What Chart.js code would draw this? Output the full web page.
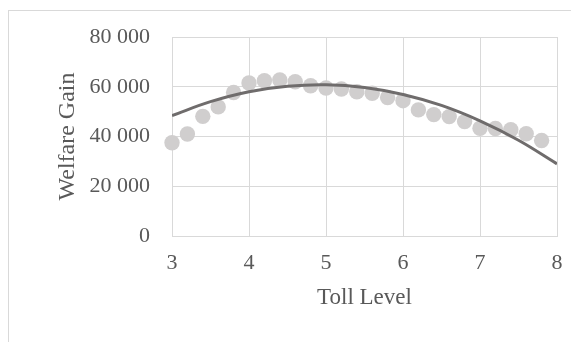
<!DOCTYPE html>
<html>
<head>
<meta charset="utf-8">
<script src="https://cdn.jsdelivr.net/npm/chart.js@4"></script>
<style>
  html, body { margin: 0; padding: 0; background: #ffffff; overflow: hidden; }
  #wrap { position: relative; width: 571px; height: 342px; }
  #frame { position: absolute; left: 8px; top: 10px; width: 620px; height: 400px; border: 1px solid #d9d9d9; box-sizing: border-box; }
  canvas { position: absolute; left: 0; top: 0; }
</style>
</head>
<body>
<div id="wrap">
  <div id="frame"></div>
  <canvas id="c" width="571" height="342"></canvas>
</div>
<script>
// Observed data (Toll Level vs Welfare Gain)
const tollLevels = [3.0, 3.2, 3.4, 3.6, 3.8, 4.0, 4.2, 4.4, 4.6, 4.8, 5.0, 5.2, 5.4, 5.6, 5.8, 6.0, 6.2, 6.4, 6.6, 6.8, 7.0, 7.2, 7.4, 7.6, 7.8];
const welfareGain = [37500, 41000, 48100, 51900, 57700, 61500, 62400, 62700, 62000, 60400, 59500, 59100, 58000, 57400, 55700, 54400, 50700, 48800, 48000, 46000, 43300, 43200, 42700, 41100, 38400];

// Trendline
const trendX = [3.0, 3.5, 4.0, 4.5, 5.0, 5.5, 6.0, 6.5, 7.0, 7.5, 8.0];
const trendY = [48400, 54000, 58000, 60200, 60800, 59700, 56900, 52500, 46300, 38500, 29000];

// Axis ticks
const xTicks = [3, 4, 5, 6, 7, 8];
const yTicks = [0, 20000, 40000, 60000, 80000];
const yTickLabels = ['0', '20 000', '40 000', '60 000', '80 000'];

const textColor = '#595959';
const gridColor = '#d9d9d9';
const fontFamily = "'Liberation Serif', 'Times New Roman', serif";

const pointData = tollLevels.map((x, i) => ({ x: x, y: welfareGain[i] }));
const trendData = trendX.map((x, i) => ({ x: x, y: trendY[i] }));

new Chart(document.getElementById('c'), {
  type: 'scatter',
  data: {
    datasets: [
      {
        label: 'Trend',
        data: trendData,
        showLine: true,
        borderColor: '#6f6c6c',
        borderWidth: 3,
        pointRadius: 0,
        tension: 0.4,
        fill: false,
        order: 0
      },
      {
        label: 'Welfare Gain',
        data: pointData,
        backgroundColor: '#d0cece',
        borderWidth: 0,
        pointRadius: 7.7,
        pointHoverRadius: 7.7,
        clip: false,
        order: 1
      }
    ]
  },
  options: {
    responsive: false,
    animation: false,
    events: [],
    layout: { padding: { left: 0, right: 14, top: 37, bottom: 0 } },
    plugins: { legend: { display: false }, tooltip: { enabled: false } },
    scales: {
      x: {
        type: 'linear',
        min: 3, max: 8,
        afterBuildTicks: (s) => { s.ticks = xTicks.map(v => ({ value: v })); },
        afterFit: (s) => { s.height = 106; s.paddingLeft = 0; s.paddingRight = 0; },
        grid: { color: gridColor, lineWidth: 1, drawTicks: false },
        border: { color: gridColor },
        ticks: { color: textColor, padding: 14, font: { family: fontFamily, size: 22 }, maxRotation: 0 },
        title: { display: true, text: 'Toll Level', color: textColor, font: { family: fontFamily, size: 23, lineHeight: 1 }, padding: { top: 0, bottom: 33 } }
      },
      y: {
        type: 'linear',
        min: 0, max: 80000,
        afterBuildTicks: (s) => { s.ticks = yTicks.map(v => ({ value: v })); },
        afterFit: (s) => { s.width = 172; s.paddingTop = 0; s.paddingBottom = 0; },
        grid: { color: gridColor, lineWidth: 1, drawTicks: false },
        border: { color: gridColor },
        ticks: {
          color: textColor, padding: 22,
          font: { family: fontFamily, size: 22 },
          callback: (v) => { const i = yTicks.indexOf(v); return i >= 0 ? yTickLabels[i] : ''; }
        },
        title: { display: true, text: 'Welfare Gain', color: textColor, font: { family: fontFamily, size: 24, lineHeight: 1 }, padding: { top: 56, bottom: 0 } }
      }
    }
  }
});
</script>
</body>
</html>
